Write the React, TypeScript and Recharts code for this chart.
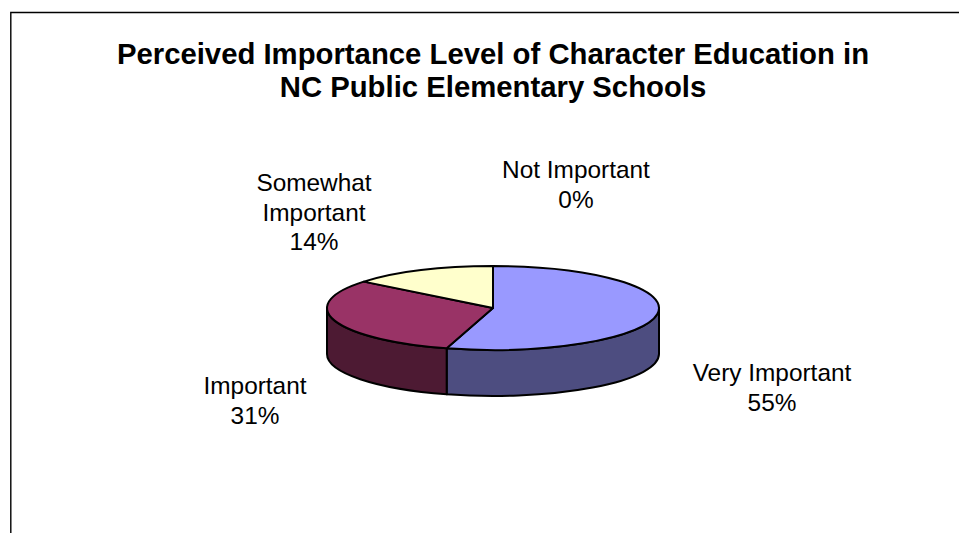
import React from 'react';
import { PieChart, Pie } from 'recharts';

const categories = ['Very Important', 'Important', 'Somewhat Important', 'Not Important'];
const shares = [54.5, 31.3, 14.2, 0];
const topColors = ['#9999FF', '#993366', '#FFFFCC', '#660066'];
const wallColors = ['#4D4D80', '#4D1A33', '#808066', '#330033'];
const titleLines = [
  'Perceived Importance Level of Character Education in',
  'NC Public Elementary Schools',
];
const labelLines = [['Very Important'], ['Important'], ['Somewhat', 'Important'], ['Not Important']];

const W = 959;
const H = 533;
const CX = 493;
const CY = 308;
const RX = 166;
const RY = 42;
const DEPTH = 46;
const FONT = '"Liberation Sans", Arial, sans-serif';
const labelAnchor = [
  { x: 772, y: 381 },
  { x: 255, y: 394 },
  { x: 314, y: 191 },
  { x: 576, y: 178 },
];
const LINE_H = 29.5;

const rows = categories.map((name, i) => ({ name, value: shares[i], index: i }));

const rad = (d: number) => (d * Math.PI) / 180;
// recharts angle (90 = top, decreasing clockwise) -> point on the flattened rim
const rim = (p: any, ang: number, dy = 0) => {
  const ry = p.outerRadius * (RY / RX);
  return {
    x: p.cx + p.outerRadius * Math.cos(rad(ang)),
    y: p.cy - ry * Math.sin(rad(ang)) + dy,
  };
};

const TopFace = (p: any) => {
  if (Math.abs(p.startAngle - p.endAngle) < 0.01) return <g />;
  const a = rim(p, p.startAngle);
  const b = rim(p, p.endAngle);
  const ry = p.outerRadius * (RY / RX);
  const large = Math.abs(p.startAngle - p.endAngle) > 180 ? 1 : 0;
  const d = `M${p.cx},${p.cy}L${a.x},${a.y}A${p.outerRadius},${ry} 0 ${large} 1 ${b.x},${b.y}Z`;
  return <path d={d} fill={topColors[p.index ?? p.payload?.index]} stroke="#000" strokeWidth={2} strokeLinejoin="round" />;
};

const WallFace = (p: any) => {
  // visible front half: recharts angles from 0 down to -180
  const s = Math.min(p.startAngle, 0);
  const e = Math.max(p.endAngle, -180);
  if (s - e < 0.01) return <g />;
  const a = rim(p, s);
  const b = rim(p, e);
  const a2 = rim(p, s, DEPTH);
  const b2 = rim(p, e, DEPTH);
  const ry = p.outerRadius * (RY / RX);
  const d = `M${a.x},${a.y}A${p.outerRadius},${ry} 0 0 1 ${b.x},${b.y}L${b2.x},${b2.y}A${p.outerRadius},${ry} 0 0 0 ${a2.x},${a2.y}Z`;
  return <path d={d} fill={wallColors[p.index ?? p.payload?.index]} stroke="#000" strokeWidth={2} strokeLinejoin="round" />;
};

const renderLabel = (p: any) => {
  const i = p.index;
  const lines = [...labelLines[i], `${Math.round(p.percent * 100)}%`];
  return (
    <text key={i} textAnchor="middle" fontFamily={FONT} fontSize={24.4} fill="#000">
      {lines.map((l, k) => (
        <tspan key={k} x={labelAnchor[i].x} y={labelAnchor[i].y + k * LINE_H}>
          {l}
        </tspan>
      ))}
    </text>
  );
};

export default function App() {
  return (
    <div style={{ position: 'absolute', left: 0, top: 0, width: W, height: H, background: '#fff' }}>
      <PieChart width={W} height={H} margin={{ top: 0, right: 0, bottom: 0, left: 0 }}>
        <path d={`M10.8,${H}V12.5H${W}`} fill="none" stroke="#000" strokeWidth={1.4} />
        {titleLines.map((t, i) => (
          <text key={i} x={493} y={64 + i * 33} textAnchor="middle" fontFamily={FONT} fontWeight={700} fontSize={29.3} fill="#000">
            {t}
          </text>
        ))}
        <Pie
          data={rows}
          dataKey="value"
          nameKey="name"
          cx={CX}
          cy={CY}
          outerRadius={RX}
          innerRadius={0}
          startAngle={90}
          endAngle={-270}
          isAnimationActive={false}
          shape={WallFace}
          label={false}
          labelLine={false}
        />
        <Pie
          data={rows}
          dataKey="value"
          nameKey="name"
          cx={CX}
          cy={CY}
          outerRadius={RX}
          innerRadius={0}
          startAngle={90}
          endAngle={-270}
          isAnimationActive={false}
          shape={TopFace}
          label={renderLabel}
          labelLine={false}
        />
      </PieChart>
    </div>
  );
}
